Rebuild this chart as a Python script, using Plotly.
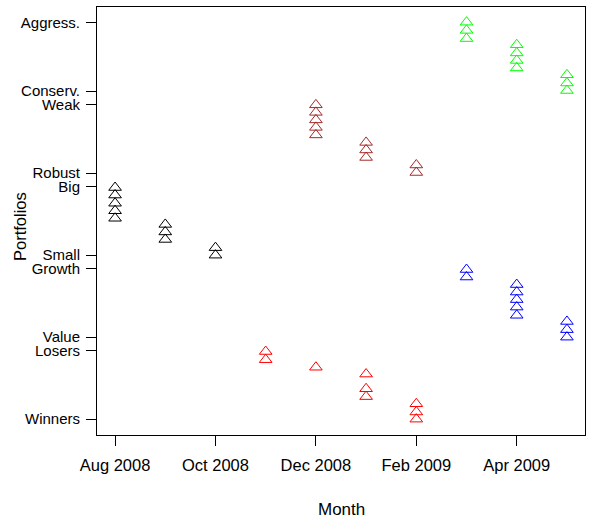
import plotly.graph_objects as go

# Month axis: index positions 0..9 from Aug 2008 to May 2009
months = ["Aug 2008", "Sep 2008", "Oct 2008", "Nov 2008", "Dec 2008",
          "Jan 2009", "Feb 2009", "Mar 2009", "Apr 2009", "May 2009"]
month_ticks = [0, 2, 4, 6, 8]

# Portfolio labels and their positions on the vertical scale
portfolio_labels = ["Winners", "Losers", "Value", "Growth", "Small",
                    "Big", "Robust", "Weak", "Conserv.", "Aggress."]
portfolio_pos = [0.0, 1.0, 1.2, 2.2, 2.4, 3.4, 3.6, 4.6, 4.8, 5.8]

# Size factor (Small / Big)
size_month = [0, 0, 0, 0, 0, 1, 1, 1, 2, 2]
size_val = [3.39, 3.28, 3.16, 3.05, 2.94, 2.85, 2.74, 2.63, 2.51, 2.40]

# Profitability factor (Robust / Weak)
prof_month = [4, 4, 4, 4, 4, 5, 5, 5, 6, 6]
prof_val = [4.60, 4.49, 4.38, 4.27, 4.16, 4.05, 3.94, 3.83, 3.72, 3.61]

# Investment factor (Conserv. / Aggress.)
inv_month = [7, 7, 7, 8, 8, 8, 8, 9, 9, 9]
inv_val = [5.81, 5.69, 5.57, 5.48, 5.36, 5.25, 5.14, 5.04, 4.92, 4.81]

# Value factor (Value / Growth)
val_month = [7, 7, 8, 8, 8, 8, 8, 9, 9, 9]
val_val = [2.19, 2.08, 1.97, 1.86, 1.75, 1.64, 1.52, 1.43, 1.31, 1.20]

# Momentum factor (Winners / Losers)
mom_month = [3, 3, 4, 5, 5, 5, 6, 6, 6]
mom_val = [0.99, 0.87, 0.76, 0.66, 0.445, 0.33, 0.225, 0.105, 0.0]

series = [
    (size_month, size_val, "black"),
    (prof_month, prof_val, "#A52A2A"),
    (inv_month, inv_val, "#00FF00"),
    (val_month, val_val, "#0000FF"),
    (mom_month, mom_val, "#FF0000"),
]

font_family = "Liberation Sans, Arial, Helvetica, sans-serif"

fig = go.Figure()
for xs, ys, col in series:
    fig.add_trace(go.Scatter(
        x=xs, y=ys, mode="markers",
        marker=dict(symbol="triangle-up-open", size=11,
                    color=col, line=dict(color=col, width=1)),
        showlegend=False, hoverinfo="skip"))

fig.update_layout(
    width=595, height=520,
    margin=dict(l=97, r=10, t=7, b=85),
    paper_bgcolor="white", plot_bgcolor="white",
    font=dict(family=font_family, color="black"),
    xaxis=dict(
        range=[-0.36, 9.36], showgrid=False, zeroline=False,
        tickmode="array", tickvals=month_ticks,
        ticktext=[months[i] for i in month_ticks],
        ticks="outside", ticklen=10, tickwidth=1, tickcolor="black",
        showline=True, linecolor="black", linewidth=1, mirror=True,
        tickfont=dict(size=16.5, color="black"),
        ticklabelstandoff=5,
    ),
    yaxis=dict(
        range=[-0.232, 6.032], showgrid=False, zeroline=False,
        tickmode="array", tickvals=portfolio_pos, ticktext=portfolio_labels,
        ticks="outside", ticklen=10, tickwidth=1, tickcolor="black",
        showline=True, linecolor="black", linewidth=1, mirror=True,
        tickfont=dict(size=15, color="black"),
        ticklabelstandoff=3,
    ),
    annotations=[
        dict(text="Month", xref="paper", yref="paper", x=0.5, y=0,
             yshift=-74, showarrow=False, xanchor="center", yanchor="middle",
             font=dict(size=17, color="black")),
        dict(text="Portfolios", xref="paper", yref="paper", x=0, y=0.5,
             xshift=-77, yshift=-6, showarrow=False, textangle=-90,
             xanchor="center", yanchor="middle",
             font=dict(size=16.5, color="black")),
    ],
)

fig.write_html("out.html")
